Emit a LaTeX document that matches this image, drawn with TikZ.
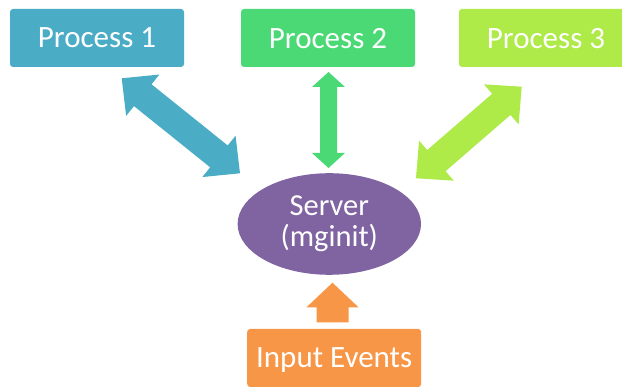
\documentclass[tikz,border=0pt]{standalone}
\usepackage{fontspec}
\setmainfont{Carlito}
\usetikzlibrary{calc,shapes.geometric}
\definecolor{pone}{HTML}{4BACC6}
\definecolor{ptwo}{HTML}{4AD975}
\definecolor{pthree}{HTML}{AEEA48}
\definecolor{pserver}{HTML}{8064A2}
\definecolor{pinput}{HTML}{F79646}
\tikzset{
  procbox/.style={rounded corners=3pt, minimum width=174pt, minimum height=58pt,
    inner sep=0pt, text=white, text depth=0pt, font=\fontsize{31}{31}\selectfont},
  serverell/.style={ellipse, fill=pserver, minimum width=183.4pt, minimum height=101.6pt,
    inner sep=0pt, text=white, align=center, font=\fontsize{30.5}{31}\selectfont},
}
% double block arrow: #1 A, #2 B, #3 head length, #4 head half width, #5 shaft half width, #6 colour
\newcommand\dblblock[6]{%
  \coordinate (hA) at ($(#1)!#3!(#2)$);
  \coordinate (hB) at ($(#2)!#3!(#1)$);
  \fill[#6] (#1) -- ($(hA)!#4!90:(#2)$) -- ($(hA)!#5!90:(#2)$) -- ($(hB)!#5!-90:(#1)$)
    -- ($(hB)!#4!-90:(#1)$) -- (#2) -- ($(hB)!#4!90:(#1)$) -- ($(hB)!#5!90:(#1)$)
    -- ($(hA)!#5!-90:(#2)$) -- ($(hA)!#4!-90:(#2)$) -- cycle;}
% single block arrow from tail #1 to tip #2
\newcommand\oneblock[6]{%
  \coordinate (hB) at ($(#2)!#3!(#1)$);
  \fill[#6] ($(#1)!#5!-90:(#2)$) -- ($(hB)!#5!90:(#1)$) -- ($(hB)!#4!90:(#1)$) -- (#2)
    -- ($(hB)!#4!-90:(#1)$) -- ($(hB)!#5!-90:(#1)$) -- ($(#1)!#5!90:(#2)$) -- cycle;}
\begin{document}
\begin{tikzpicture}[x=1pt,y=-1pt]
\useasboundingbox (0,0) rectangle (622,387);
\clip (0,0) rectangle (622,387);
\node[procbox, fill=pone] (p1) at (97,38) {Process 1};
\node[procbox, fill=ptwo] (p2) at (328,38) {Process 2};
\node[procbox, fill=pthree] (p3) at (546,38) {Process 3};
\node[serverell] (srv) at (329.3,224) {Server\\(mginit)};
\node[procbox, fill=pinput] (inp) at (334.2,358) {Input Events};
% arrow end points
\coordinate (a1) at (121.7,78.3);
\coordinate (b1) at (240,173.3);
\coordinate (a2) at (328.5,72);
\coordinate (b2) at (328.5,168);
\coordinate (a3) at (521.7,86.7);
\coordinate (b3) at (416,178.3);
\coordinate (a4) at (332.5,322.3);
\coordinate (b4) at (332.5,282.7);
\dblblock{a1}{b1}{27pt}{26.5pt}{14pt}{pone}
\dblblock{a2}{b2}{15pt}{16.5pt}{8.5pt}{ptwo}
\dblblock{a3}{b3}{27pt}{26.5pt}{14pt}{pthree}
\oneblock{a4}{b4}{24.6pt}{26pt}{16pt}{pinput}
\end{tikzpicture}
\end{document}
